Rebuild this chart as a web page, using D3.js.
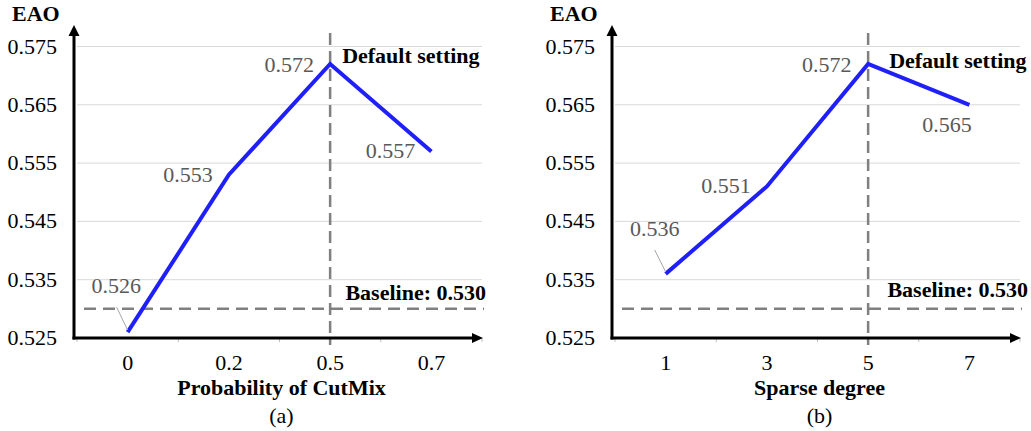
<!DOCTYPE html>
<html>
<head>
<meta charset="utf-8">
<script src="https://cdn.jsdelivr.net/npm/d3@7"></script>
<style>
  html, body { margin: 0; padding: 0; background: #fff; }
  svg { display: block; }
  svg text { font-family: 'Liberation Serif', 'Times New Roman', Times, 'DejaVu Serif', serif; }
</style>
</head>
<body>
<div id="chart"></div>
<script>
/* ── data ── */
const cutmixCats = ['0', '0.2', '0.5', '0.7'];
const cutmixEAO  = [0.526, 0.553, 0.572, 0.557];
const sparseCats = ['1', '3', '5', '7'];
const sparseEAO  = [0.536, 0.551, 0.572, 0.565];
const yTicks     = [0.525, 0.535, 0.545, 0.555, 0.565, 0.575];
const baselineEAO = 0.530;

const W = 1031, H = 431;
const FS = 22;
const FONT = "'Liberation Serif', 'Times New Roman', Times, serif";

const svg = d3.select('#chart').append('svg')
    .attr('width', W).attr('height', H)
    .attr('font-family', FONT);
svg.append('rect').attr('width', W).attr('height', H).attr('fill', '#fff');

const y = d3.scaleLinear().domain([0.525, 0.575]).range([338, 46.5]);

function drawPanel(opts) {
    const g = svg.append('g').attr('transform', `translate(${opts.dx},0)`);
    const AX = 74;
    const x = d3.scaleBand().domain(opts.cats).range([77, 482]);
    const [r0, r1] = x.range();
    const px = c => x(c) + x.bandwidth() / 2;

    /* gridlines */
    g.selectAll('.grid').data(yTicks.slice(1)).enter().append('line')
        .attr('x1', r0).attr('x2', r1)
        .attr('y1', d => y(d)).attr('y2', d => y(d))
        .attr('stroke', '#d9d9d9').attr('stroke-width', 1);

    /* x tick marks at band edges */
    const edges = opts.cats.map(c => x(c)).concat([r1]);
    g.selectAll('.xt').data(edges).enter().append('line')
        .attr('x1', d => d).attr('x2', d => d)
        .attr('y1', y(0.525)).attr('y2', y(0.525) + 4)
        .attr('stroke', '#bfbfbf').attr('stroke-width', 1);

    /* y tick labels */
    g.selectAll('.yl').data(yTicks).enter().append('text')
        .attr('x', AX - 17).attr('y', d => y(d) + 7)
        .attr('text-anchor', 'end')
        .attr('font-size', FS).attr('fill', '#000')
        .text(d => d3.format('.3f')(d));

    /* x tick labels */
    g.selectAll('.xl').data(opts.cats).enter().append('text')
        .attr('x', d => px(d)).attr('y', 370)
        .attr('text-anchor', 'middle')
        .attr('font-size', FS).attr('fill', '#000')
        .text(d => d);

    /* baseline */
    g.append('line')
        .attr('x1', r0).attr('x2', r1 + 2)
        .attr('y1', y(baselineEAO)).attr('y2', y(baselineEAO))
        .attr('stroke', '#808080').attr('stroke-width', 2.5)
        .attr('stroke-dasharray', '12,7').attr('stroke-dashoffset', 12);

    /* default-setting vertical line */
    const dX = px(opts.cats[opts.defaultIdx]);
    g.append('line')
        .attr('x1', dX).attr('x2', dX)
        .attr('y1', 33).attr('y2', 345)
        .attr('stroke', '#808080').attr('stroke-width', 2.5)
        .attr('stroke-dasharray', '12,6');

    /* axes */
    g.append('line').attr('x1', AX).attr('x2', AX).attr('y1', y(0.525) + 1.5).attr('y2', 35)
        .attr('stroke', '#000').attr('stroke-width', 3);
    g.append('path').attr('d', `M${AX},25 L${AX - 5.5},36 L${AX + 5.5},36 Z`).attr('fill', '#000');
    g.append('line').attr('x1', AX - 1.5).attr('x2', r1 - 10).attr('y1', y(0.525)).attr('y2', y(0.525))
        .attr('stroke', '#000').attr('stroke-width', 3);
    g.append('path').attr('d', `M${r1 + 1},${y(0.525)} L${r1 - 10},${y(0.525) - 5} L${r1 - 10},${y(0.525) + 5} Z`)
        .attr('fill', '#000');

    /* series line */
    const pts = opts.cats.map((c, i) => [px(c), y(opts.vals[i])]);
    g.append('path')
        .attr('d', d3.line()(pts))
        .attr('fill', 'none').attr('stroke', '#1f1ffa')
        .attr('stroke-width', 4).attr('stroke-linejoin', 'miter');

    /* data labels */
    pts.forEach((p, i) => {
        const o = opts.labelOff[i];
        g.append('text')
            .attr('x', p[0] + o[0]).attr('y', p[1] + o[1])
            .attr('text-anchor', 'middle')
            .attr('font-size', FS).attr('fill', '#595959')
            .text(d3.format('.3f')(opts.vals[i]));
        if (o[2]) {
            g.append('line')
                .attr('x1', p[0] + o[2][0]).attr('y1', p[1] + o[2][1])
                .attr('x2', p[0]).attr('y2', p[1] - 2)
                .attr('stroke', '#a6a6a6').attr('stroke-width', 1);
        }
    });

    /* annotations */
    g.append('text')
        .attr('x', dX + opts.defOff[0]).attr('y', opts.defOff[1])
        .attr('font-size', FS).attr('font-weight', 'bold').attr('fill', '#000')
        .text('Default setting');
    g.append('text')
        .attr('x', r1 + opts.baseOff[0]).attr('y', opts.baseOff[1])
        .attr('text-anchor', 'end')
        .attr('font-size', FS).attr('font-weight', 'bold').attr('fill', '#000')
        .text('Baseline: 0.530');

    /* titles */
    g.append('text').attr('x', AX - 62).attr('y', 21)
        .attr('font-size', FS).attr('font-weight', 'bold').attr('fill', '#000')
        .text('EAO');
    g.append('text').attr('x', (r0 + r1) / 2 + 2).attr('y', 395)
        .attr('text-anchor', 'middle')
        .attr('font-size', FS).attr('font-weight', 'bold').attr('fill', '#000')
        .text(opts.xTitle);
    g.append('text').attr('x', (r0 + r1) / 2 + 2).attr('y', 423)
        .attr('text-anchor', 'middle')
        .attr('font-size', FS).attr('fill', '#000')
        .text(opts.caption);
}

drawPanel({
    dx: 0, cats: cutmixCats, vals: cutmixEAO, defaultIdx: 2,
    xTitle: 'Probability of CutMix', caption: '(a)',
    labelOff: [[-11.5, -39, [-11, -25]], [-41, 7], [-41, 8], [-41, 6.5]],
    defOff: [12, 63], baseOff: [4, 300]
});
drawPanel({
    dx: 538, cats: sparseCats, vals: sparseEAO, defaultIdx: 2,
    xTitle: 'Sparse degree', caption: '(b)',
    labelOff: [[-11, -37.5, [-11, -24]], [-41, 6.5], [-41.5, 8], [-22.5, 27]],
    defOff: [21, 68], baseOff: [8, 297]
});
</script>
</body>
</html>
